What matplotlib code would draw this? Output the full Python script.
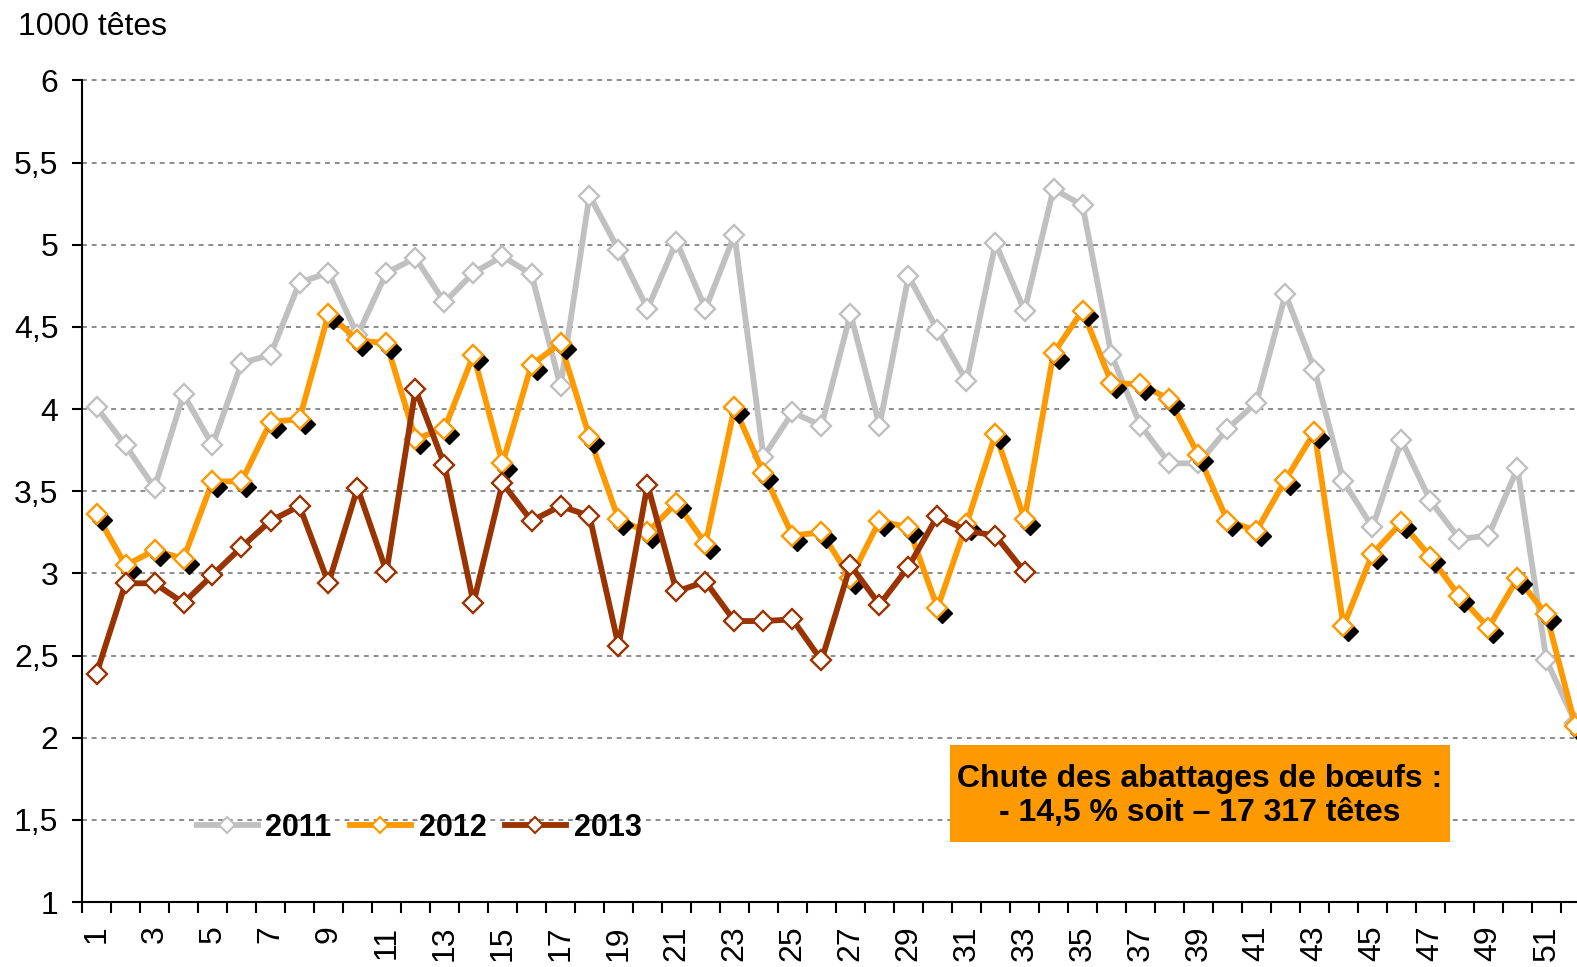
import matplotlib
matplotlib.use("Agg")
import matplotlib.pyplot as plt
import matplotlib.transforms as mtransforms
from matplotlib.patches import Rectangle
from matplotlib.lines import Line2D

plt.rcParams["font.family"] = ["Liberation Sans", "DejaVu Sans"]

# abattages hebdomadaires de bœufs, en milliers de têtes
weeks = list(range(1, 53))
val_2011 = [4.01, 3.78, 3.52, 4.09, 3.78, 4.28, 4.33, 4.77, 4.83, 4.45,
            4.83, 4.92, 4.65, 4.83, 4.93, 4.82, 4.14, 5.30, 4.97, 4.61,
            5.02, 4.61, 5.06, 3.71, 3.98, 3.90, 4.58, 3.90, 4.81, 4.48,
            4.17, 5.01, 4.60, 5.34, 5.24, 4.33, 3.90, 3.67, 3.67, 3.88,
            4.04, 4.70, 4.24, 3.56, 3.28, 3.81, 3.44, 3.21, 3.23, 3.64,
            2.47, 2.09]
val_2012 = [3.36, 3.05, 3.14, 3.09, 3.56, 3.56, 3.92, 3.94, 4.58, 4.42,
            4.40, 3.82, 3.88, 4.33, 3.67, 4.27, 4.40, 3.83, 3.33, 3.25,
            3.43, 3.18, 4.01, 3.61, 3.23, 3.25, 2.97, 3.32, 3.28, 2.79,
            3.30, 3.85, 3.33, 4.34, 4.60, 4.16, 4.15, 4.06, 3.72, 3.32,
            3.26, 3.57, 3.86, 2.68, 3.12, 3.31, 3.10, 2.86, 2.67, 2.97,
            2.75, 2.07]
val_2013 = [2.39, 2.94, 2.94, 2.82, 2.99, 3.16, 3.32, 3.41, 2.94, 3.52,
            3.01, 4.12, 3.66, 2.82, 3.55, 3.32, 3.41, 3.35, 2.56, 3.54,
            2.89, 2.95, 2.71, 2.71, 2.72, 2.47, 3.05, 2.81, 3.04, 3.35,
            3.26, 3.23, 3.01]

y_ticks = [1, 1.5, 2, 2.5, 3, 3.5, 4, 4.5, 5, 5.5, 6]
y_tick_labels = ["1", "1,5", "2", "2,5", "3", "3,5", "4", "4,5", "5", "5,5", "6"]
x_label_weeks = weeks[::2]

C2011, C2012, C2013 = "#C0C0C0", "#FF9900", "#993300"
LW, MS, MEW = 4.2, 10.5, 1.7

fig = plt.figure(figsize=(15.77, 9.67), dpi=100)
# l'axe déborde volontairement à droite : la semaine 52 tombe sur le bord de l'image
ax = fig.add_axes([82 / 1577, 65 / 967, 1508 / 1577, 821.5 / 967])

ax.plot(weeks, val_2011, color=C2011, lw=LW, marker="D", ms=MS,
        mfc="white", mec=C2011, mew=MEW, zorder=3, clip_on=False)

# 2012 : ligne, ombre noire décalée sous les marqueurs, puis marqueurs
w12 = weeks[:len(val_2012)]
ax.plot(w12, val_2012, color=C2012, lw=LW, zorder=4, clip_on=False)
shadow = ax.transData + mtransforms.ScaledTranslation(0.05, -0.055, fig.dpi_scale_trans)
ax.plot(w12, val_2012, ls="none", marker="D", ms=MS, mfc="black", mec="black",
        transform=shadow, zorder=4.5, clip_on=False)
ax.plot(w12, val_2012, ls="none", marker="D", ms=MS, mfc="white", mec=C2012,
        mew=MEW, zorder=5, clip_on=False)

w13 = weeks[:len(val_2013)]
ax.plot(w13, val_2013, color=C2013, lw=LW, marker="D", ms=MS,
        mfc="white", mec=C2013, mew=MEW, zorder=6)

ax.set_xlim(0.5, 52.5)
ax.set_ylim(1, 6)

ax.set_yticks(y_ticks, y_tick_labels)
ax.set_xticks([w - 0.5 for w in weeks] + [weeks[-1] + 0.5], [])
ax.set_xticks(x_label_weeks, [str(w) for w in x_label_weeks], minor=True, rotation=90)
ax.tick_params(axis="y", direction="out", length=7, width=1.5, pad=10, labelsize=23)
ax.tick_params(axis="x", which="major", direction="out", length=8, width=1.5)
ax.tick_params(axis="x", which="minor", length=0, pad=17, labelsize=23)

ax.yaxis.grid(True, color="#8C8C8C", linestyle=(0, (2.5, 2.5)), linewidth=1.4)
for gl in ax.get_ygridlines():
    gl.set_clip_on(False)
ax.set_axisbelow(True)
for side in ("top", "right"):
    ax.spines[side].set_visible(False)
for side in ("left", "bottom"):
    ax.spines[side].set_linewidth(1.5)
    ax.spines[side].set_color("black")

fig.text(18 / 1577, 932 / 967, "1000 têtes", fontsize=23, va="baseline", ha="left")

handles = [
    Line2D([], [], color=c, lw=LW, marker="D", ms=8, mfc="white", mec=c, mew=1.5)
    for c in (C2011, C2012, C2013)
]
ax.legend(handles, ["2011", "2012", "2013"], ncol=3, frameon=False,
          prop=dict(weight="bold", size=22), handlelength=2.0, handletextpad=0.25,
          columnspacing=0.6, loc="center left", bbox_to_anchor=(0.076, 0.09),
          borderaxespad=0, borderpad=0)

ax.add_patch(Rectangle((0.5756, 0.073), 0.3316, 0.118, transform=ax.transAxes,
                       facecolor=C2012, edgecolor="none", zorder=7))
ax.text(0.7414, 0.129, "Chute des abattages de bœufs :\n- 14,5 % soit – 17 317 têtes",
        transform=ax.transAxes, ha="center", va="center", multialignment="center",
        fontsize=23, fontweight="bold", linespacing=1.15, zorder=8)

fig.savefig("out.png", dpi=100)
